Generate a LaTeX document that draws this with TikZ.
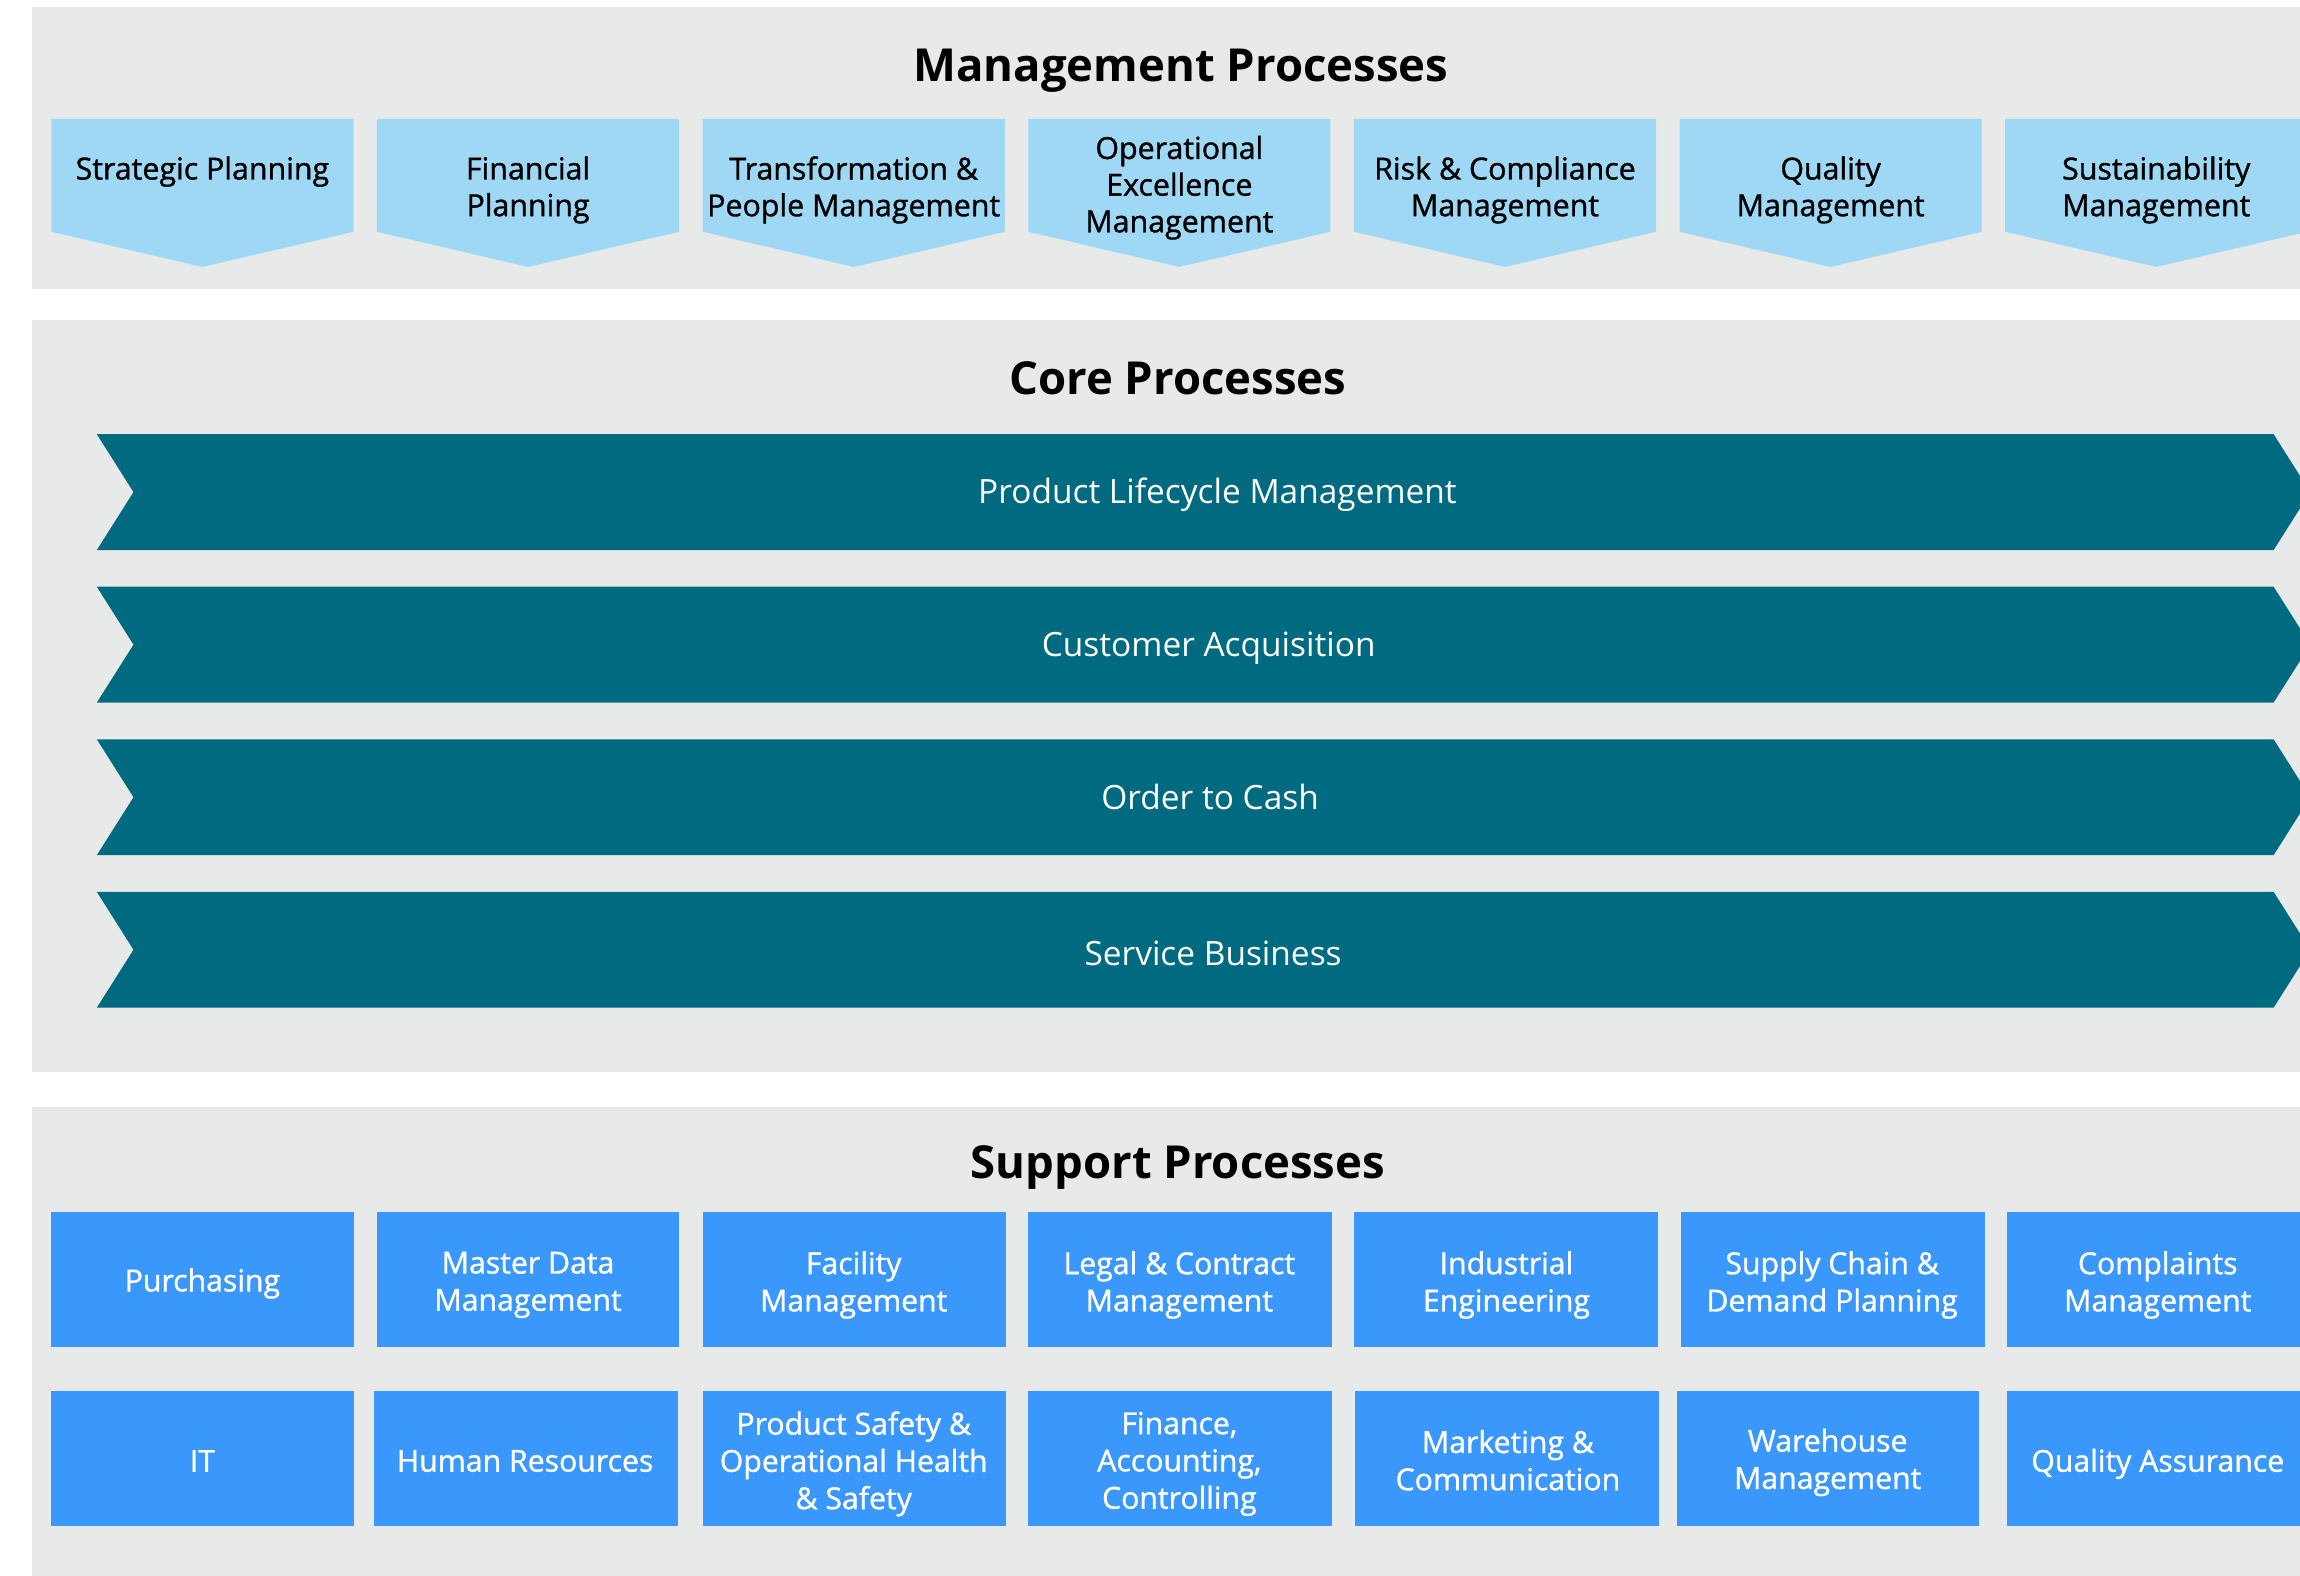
\documentclass[tikz,border=0pt]{standalone}
\usepackage{fontspec}
\setmainfont{Open Sans}
\newfontfamily\sbfont{Open Sans}[FakeBold=1.1]
\definecolor{panelgray}{HTML}{E8EAEA}
\definecolor{chevblue}{HTML}{9FD8F5}
\definecolor{coreteal}{HTML}{006A80}
\definecolor{supblue}{HTML}{3A98FD}
\tikzset{
  panel/.style={fill=panelgray},
  chevshape/.style={fill=chevblue},
  coreshape/.style={fill=coreteal},
  sectiontitle/.style={font=\bfseries\fontsize{15.5}{18}\selectfont, inner sep=0pt},
  mgmtlabel/.style={font=\sbfont\fontsize{10.35}{12.5}\selectfont, align=center, text=black, inner sep=0pt},
  corelabel/.style={font=\fontsize{11.4}{14}\selectfont, text=white, inner sep=0pt},
  suplabel/.style={font=\sbfont\fontsize{10.3}{12.7}\selectfont, align=center, text=white, inner sep=0pt},
}
\begin{document}
\begin{tikzpicture}[x=0.5pt,y=-0.5pt]
\useasboundingbox (0,0) rectangle (1568,1074);
\clip (0,0) rectangle (1568,1074);
\fill[white] (0,0) rectangle (1568,1074);

% three section panels
\fill[panel] (22,5) rectangle (1600,197);
\fill[panel] (22,218) rectangle (1600,731);
\fill[panel] (22,755) rectangle (1600,1090);

% section titles
\node[sectiontitle] (tmgmt) at (805,48) {Management Processes};
\node[sectiontitle] (tcore) at (803,258) {Core Processes};
\node[sectiontitle] (tsup) at (803,796) {Support Processes};

% management chevrons: left edge of each, width 206
\foreach \l in {35,257,479,701,923,1145,1367}{
  \fill[chevshape] (\l,81) -- ++(206,0) -- ++(0,77) -- ++(-103,24) -- ++(-103,-24) -- cycle;
}
\node[mgmtlabel] (m1) at (138,117)   {Strategic Planning};
\node[mgmtlabel] (m2) at (360,129.5) {Financial\\Planning};
\node[mgmtlabel] (m3) at (582,129.5) {Transformation \&\\People Management};
\node[mgmtlabel] (m4) at (804,128)   {Operational\\Excellence\\Management};
\node[mgmtlabel] (m5) at (1026,129.5) {Risk \& Compliance\\Management};
\node[mgmtlabel] (m6) at (1248,129.5) {Quality\\Management};
\node[mgmtlabel] (m7) at (1470,129.5) {Sustainability\\Management};

% core process arrows
\foreach \t in {296,400,504,608}{
  \fill[coreshape] (66,\t) -- (1550,\t) -- (1575,\t+39.5) -- (1550,\t+79) -- (66,\t+79) -- (91,\t+39.5) -- cycle;
}
\node[corelabel] (c1) at (830,337) {Product Lifecycle Management};
\node[corelabel] (c2) at (824,442) {Customer Acquisition};
\node[corelabel] (c3) at (825,543) {Order to Cash};
\node[corelabel] (c4) at (827,650) {Service Business};

% support process boxes
\foreach \a/\b in {35/241,257/463,479/686,701/908,923/1130,1146/1353,1368/1575}{
  \fill[supblue] (\a,826) rectangle (\b,918);
}
\foreach \a/\b in {35/241,255/462,479/686,701/908,924/1131,1143/1349,1368/1575}{
  \fill[supblue] (\a,948) rectangle (\b,1040);
}
\node[suplabel] (s1) at (138,875)  {Purchasing};
\node[suplabel] (s2) at (360,876)  {Master Data\\Management};
\node[suplabel] (s3) at (582,876)  {Facility\\Management};
\node[suplabel] (s4) at (804,876)  {Legal \& Contract\\Management};
\node[suplabel] (s5) at (1027,876) {Industrial\\Engineering};
\node[suplabel] (s6) at (1249,876) {Supply Chain \&\\Demand Planning};
\node[suplabel] (s7) at (1471,876) {Complaints\\Management};
\node[suplabel] (s8) at (138,996)  {IT};
\node[suplabel] (s9) at (358,996)  {Human Resources};
\node[suplabel] (s10) at (582,998) {Product Safety \&\\Operational Health\\\& Safety};
\node[suplabel] (s11) at (804,998) {Finance,\\Accounting,\\Controlling};
\node[suplabel] (s12) at (1028,995.5) {Marketing \&\\Communication};
\node[suplabel] (s13) at (1246,997) {Warehouse\\Management};
\node[suplabel] (s14) at (1471,998) {Quality Assurance};
\end{tikzpicture}
\end{document}
